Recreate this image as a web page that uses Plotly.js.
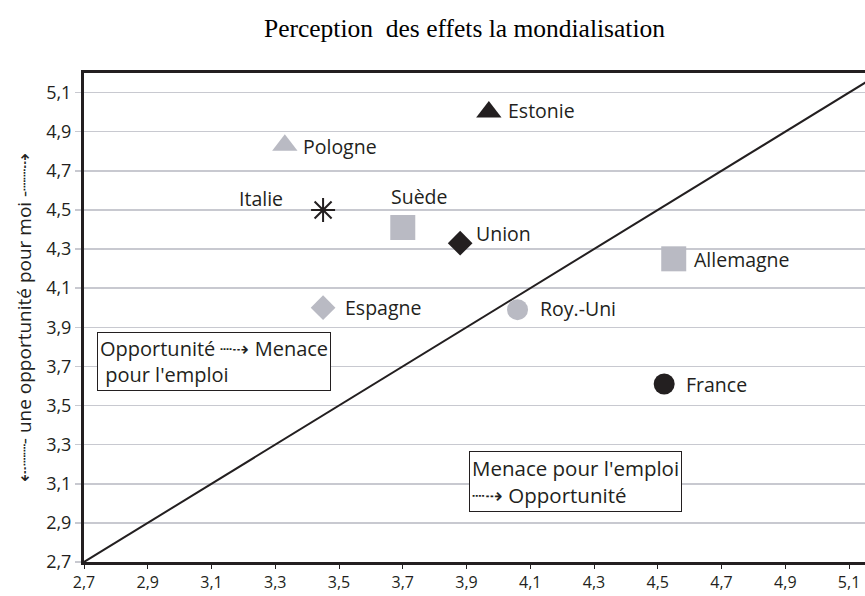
<!DOCTYPE html>
<html><head><meta charset="utf-8">
<script src="https://cdn.plot.ly/plotly-3.0.1.min.js"></script>
<style>body{margin:0;background:#fff}#c{width:865px;height:596px}</style>
</head><body><div id="c"></div>
<script>
const countries = ["Estonie","Pologne","Italie","Suède","Union","Allemagne","Espagne","Roy.-Uni","France"];
const xVals = [3.97, 3.33, 3.45, 3.70, 3.88, 4.55, 3.45, 4.06, 4.52];
const yVals = [5.00, 4.83, 4.50, 4.41, 4.33, 4.25, 4.00, 3.99, 3.61];
const symbols = ["triangle-up","triangle-up","asterisk-open","square","diamond","square","diamond","circle","circle"];
const colors = ["#231f20","#b9bac3","#231f20","#b9bac3","#231f20","#b9bac3","#b9bac3","#b9bac3","#231f20"];
const sizes = [22,22,20,25,19,25,19,21,21];
const tickVals = [2.7,2.9,3.1,3.3,3.5,3.7,3.9,4.1,4.3,4.5,4.7,4.9,5.1];
const tickText = ["2,7","2,9","3,1","3,3","3,5","3,7","3,9","4,1","4,3","4,5","4,7","4,9","5,1"];
const diagX = [2.7, 5.2];
const diagY = [2.7, 5.2];
// label placement (style only)
const lblAnchor = ["left","left","right","center","left","left","left","left","left"];
const lblXShift = [17,16,-38,16,14,18,20,20,20];
const lblYShift = [2,-1,11,31,10,-1,0,1,0];

const font = "Open Sans, Noto Sans, sans-serif";
const traces = [
  {x: diagX, y: diagY, mode: "lines", line:{color:"#231f20", width:2}, hoverinfo:"skip", showlegend:false},
  {x: xVals, y: yVals, mode: "markers", showlegend:false,
   marker:{symbol: symbols, color: colors, size: sizes, opacity:1,
           line:{color: colors, width: symbols.map(s=>s==="asterisk-open"?2:0)}}}
];
const annotations = countries.map((c,i)=>({
  x: xVals[i], y: yVals[i], text: c, showarrow:false, xanchor: lblAnchor[i], yanchor:"middle",
  xshift: lblXShift[i], yshift: lblYShift[i], font:{family:font, size:19.5, color:"#231f20"}
}));
annotations.push({xref:"paper", yref:"paper", x:0.0166, y:0.411, xanchor:"left", yanchor:"middle", showarrow:false, align:"left",
  text:"Opportunité ┈⇢ Menace<br> pour l'emploi", font:{family:font, size:20, color:"#231f20"},
  bordercolor:"#231f20", borderwidth:1, borderpad:2, bgcolor:"#ffffff"});
annotations.push({xref:"paper", yref:"paper", x:0.493, y:0.165, xanchor:"left", yanchor:"middle", showarrow:false, align:"left",
  text:"Menace pour l'emploi<br>┈⇢ Opportunité", font:{family:font, size:20.5, color:"#231f20"},
  bordercolor:"#231f20", borderwidth:1, borderpad:2, bgcolor:"#ffffff"});

const layout = {
  width:865, height:596,
  margin:{l:84, r:0, t:73, b:34},
  paper_bgcolor:"#fff", plot_bgcolor:"#fff",
  title:{text:"Perception  des effets la mondialisation", x:0.537, xanchor:"center", y:0.953, yanchor:"middle",
         font:{family:"Liberation Serif, Times New Roman, serif", size:25.5, color:"#000"}},
  xaxis:{range:[2.7,5.15], tickvals:tickVals, ticktext:tickText, showgrid:false, zeroline:false,
         showline:true, linecolor:"#231f20", linewidth:3, mirror:true,
         ticks:"outside", ticklen:4, tickcolor:"#231f20", tickwidth:1,
         tickfont:{family:font, size:16, color:"#231f20"}},
  yaxis:{range:[2.7,5.2], tickvals:tickVals, ticktext:tickText, showgrid:true, gridcolor:"#c8c9d0", gridwidth:1.5,
         zeroline:false, showline:true, linecolor:"#231f20", linewidth:3, mirror:false,
         ticks:"outside", ticklen:6, tickcolor:"#c8c9d0", tickwidth:1.5,
         tickfont:{family:font, size:18, color:"#231f20"},
         title:{text:"⇠┈┈- une opportunité pour moi -┈┈⇢", standoff:10, font:{family:font, size:19, color:"#231f20"}}},
  annotations: annotations
};
Plotly.newPlot("c", traces, layout, {displayModeBar:false, staticPlot:true});
</script></body></html>
